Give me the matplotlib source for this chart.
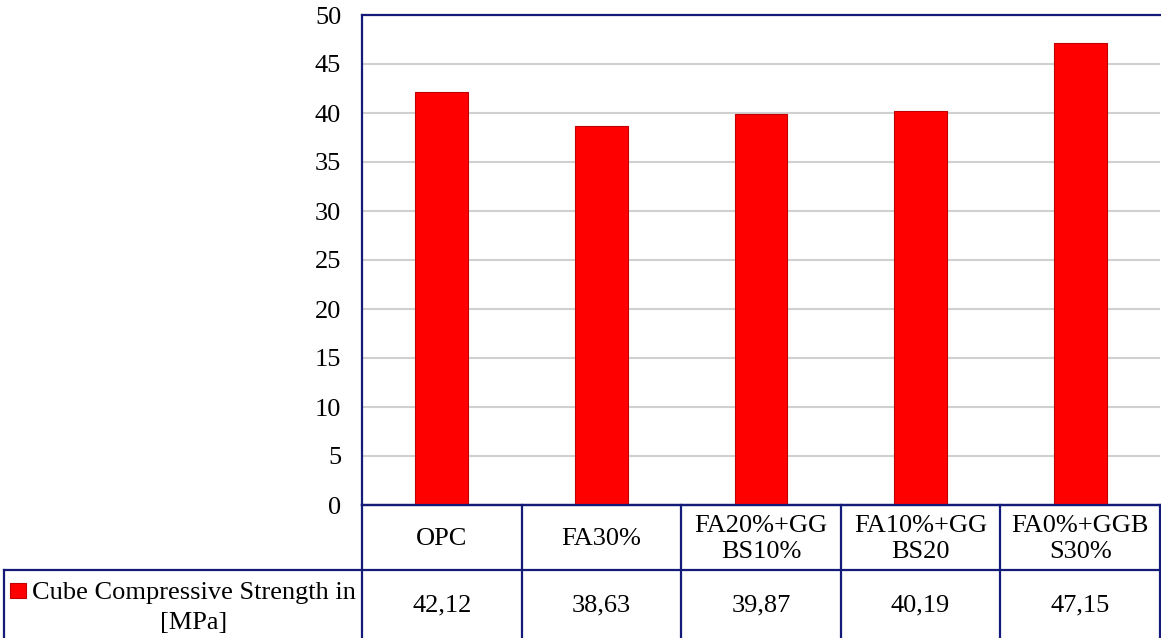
import matplotlib
matplotlib.use("Agg")
from matplotlib import pyplot as plt
from matplotlib.lines import Line2D
from matplotlib.patches import Rectangle

# compressive strength results, one bar per mix
mixes = ["OPC", "FA30%", "FA20%+GG\nBS10%", "FA10%+GG\nBS20", "FA0%+GGB\nS30%"]
strength = [42.12, 38.63, 39.87, 40.19, 47.15]
value_labels = ["42,12", "38,63", "39,87", "40,19", "47,15"]
series_name = "Cube Compressive Strength in\n[MPa]"
y_ticks = [0, 5, 10, 15, 20, 25, 30, 35, 40, 45, 50]

navy = "#141a78"
fs = 19
plt.rcParams.update({"font.family": ["Liberation Serif", "DejaVu Serif"], "font.size": fs})

fig = plt.figure(figsize=(11.61, 6.38), dpi=100)
fig.patch.set_facecolor("white")

left, right = 362 / 1161, 1160 / 1161
bottom, top = 133 / 638, 623 / 638
ax = fig.add_axes([left, bottom, right - left, top - bottom])
x = list(range(len(mixes)))
ax.bar(x, strength, width=0.33, color="#ff0000", edgecolor="#c00000", linewidth=0.8, zorder=3)
ax.set_xlim(-0.5, len(mixes) - 0.5)
ax.set_ylim(0, 50)
ax.set_yticks(y_ticks)
ax.set_xticks([])
ax.tick_params(axis="y", length=0, pad=15, labelsize=fs)
ax.yaxis.grid(True, color="#d0d0d0", linewidth=1.5, zorder=0)
ax.set_axisbelow(True)
for side in ["left", "top", "bottom"]:
    ax.spines[side].set_color(navy)
    ax.spines[side].set_linewidth(1.6)
ax.spines["right"].set_visible(False)

# data table under the bars, sharing the category scale
tab = fig.add_axes([left, 0, right - left, bottom], sharex=ax)
tab.set_ylim(0, 133)
tab.axis("off")
row_split = 68
for i in range(len(mixes) + 1):
    tab.plot([i - 0.5, i - 0.5], [0, 133], color=navy, lw=1.6, clip_on=False)
tab.plot([-0.5, len(mixes) - 0.5], [133, 133], color=navy, lw=1.6, clip_on=False)
for i, (name, val) in enumerate(zip(mixes, value_labels)):
    tab.text(i, 99, name, ha="center", va="center", linespacing=1.27, fontsize=fs)
    tab.text(i, row_split / 2 - 1, val, ha="center", va="center", fontsize=fs)

# legend cell reaching left of the plot area
px_x = lambda px: px / 1161
px_y = lambda px: (638 - px) / 638
fig.add_artist(Line2D([px_x(4), right], [px_y(570), px_y(570)], color=navy, lw=1.6))
fig.add_artist(Line2D([px_x(4), px_x(4)], [0, px_y(570)], color=navy, lw=1.6))
fig.add_artist(Rectangle((px_x(10), px_y(598)), 16 / 1161, 15 / 638, facecolor="#ff0000",
                         edgecolor="#c00000", lw=0.8))
fig.text(px_x(194), px_y(608), series_name, ha="center", va="center", linespacing=1.5,
         fontsize=fs)

fig.savefig("out.png", dpi=100, facecolor="white")
